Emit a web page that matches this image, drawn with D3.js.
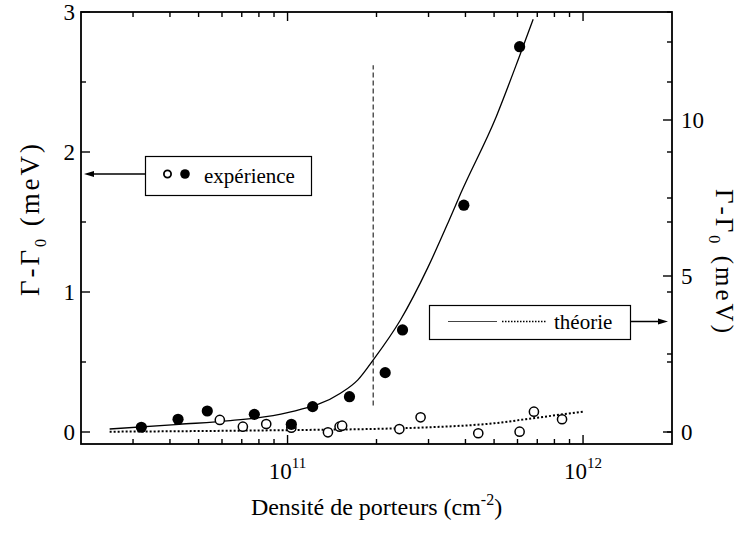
<!DOCTYPE html>
<html><head><meta charset="utf-8">
<script src="https://cdn.jsdelivr.net/npm/d3@7"></script>
<style>body{margin:0;background:#fff;} svg{display:block;font-family:"Liberation Serif","Times New Roman",serif;}</style>
</head><body><svg id="c" width="742" height="533"></svg>
<script>
// ---- data ----
// experiment, filled circles (left axis, meV)
const filledX = [3.2e10, 4.26e10, 5.35e10, 7.72e10, 1.03e11, 1.216e11, 1.62e11, 2.14e11, 2.45e11, 3.95e11, 6.1e11];
const filledY = [0.034, 0.091, 0.150, 0.126, 0.055, 0.181, 0.252, 0.424, 0.729, 1.62, 2.752];
// experiment, open circles (left axis, meV)
const openX = [5.9e10, 7.06e10, 8.47e10, 1.03e11, 1.37e11, 1.50e11, 1.53e11, 2.39e11, 2.82e11, 4.42e11, 6.1e11, 6.82e11, 8.49e11];
const openY = [0.086, 0.038, 0.057, 0.031, -0.002, 0.038, 0.045, 0.021, 0.105, -0.009, 0.002, 0.145, 0.091];
// theory, solid (right axis, meV)
const solidX = [2.5e10, 4.3e10, 6.4e10, 1e11, 1.51e11, 1.73e11, 1.95e11, 2.41e11, 2.98e11, 3.49e11, 3.86e11, 5.08e11, 6.08e11, 6.78e11];
const solidY = [0.096, 0.247, 0.362, 0.619, 1.24, 1.67, 2.31, 3.59, 5.26, 6.70, 7.66, 10.10, 12.02, 13.23];
// theory, dotted (right axis, meV)
const dotX = [2.5e10, 5e10, 1e11, 2e11, 3e11, 5e11, 7e11, 1e12];
const dotY = [0.01, 0.03, 0.06, 0.10, 0.15, 0.28, 0.46, 0.65];
// marker line position
const dashX = [1.95e11];
const dashYRange = [0.19, 2.62];
// ticks
const leftMajor = [0, 1, 2, 3];
const leftMinor = [0.5, 1.5, 2.5];
const rightMajor = [0, 5, 10];
const rightMinor = [2.5, 7.5, 12.5];
const xMajor = [1e11, 1e12];
const xMajorLabels = ["11", "12"];
const xMinor = [3e10,4e10,5e10,6e10,7e10,8e10,9e10,2e11,3e11,4e11,5e11,6e11,7e11,8e11,9e11];
const legendTexts = ["expérience", "théorie"];
const xTitle = "Densité de porteurs (cm";
const yTitle = "Γ-Γ";

// ---- layout ----
const L = 81, R = 672, T = 12, B = 444;
const svg = d3.select("#c");
const x = d3.scaleLog().domain([2e10, 2e12]).range([L, R]);
const yL = d3.scaleLinear().domain([-12/140, 3]).range([B, T]);
const k = 140/31.2;
const yR = d3.scaleLinear().domain([-12/140*k, 3*k]).range([B, T]);

const g = svg.append("g");
// frame
g.append("rect").attr("x", L).attr("y", T).attr("width", R-L).attr("height", B-T)
  .attr("fill", "none").attr("stroke", "#000").attr("stroke-width", 1.8);

function tick(x1,y1,x2,y2){ g.append("line").attr("x1",x1).attr("y1",y1).attr("x2",x2).attr("y2",y2).attr("stroke","#000").attr("stroke-width",1.4); }
// bottom + top ticks (inward)
xMajor.forEach(v=>{ tick(x(v),B,x(v),B-9); tick(x(v),T,x(v),T+9); });
xMinor.forEach(v=>{ tick(x(v),B,x(v),B-5); tick(x(v),T,x(v),T+5); });
// left ticks + mirrored
leftMajor.forEach(v=>{ tick(L,yL(v),L+9,yL(v)); tick(R,yL(v),R-5,yL(v)); });
leftMinor.forEach(v=>{ tick(L,yL(v),L+5,yL(v)); tick(R,yL(v),R-5,yL(v)); });
// right ticks
rightMajor.forEach(v=>{ tick(R,yR(v),R-9,yR(v)); });
rightMinor.forEach(v=>{ tick(R,yR(v),R-5,yR(v)); });

// tick labels
leftMajor.forEach(v=>{
  g.append("text").attr("x", 75).attr("y", yL(v)).attr("dy","0.35em").attr("text-anchor","end")
   .attr("font-size",23).text(v);
});
rightMajor.forEach(v=>{
  g.append("text").attr("x", 681).attr("y", yR(v)).attr("dy","0.35em").attr("text-anchor","start")
   .attr("font-size",23).text(v);
});
xMajor.forEach((v,i)=>{
  const t = g.append("text").attr("x", x(v)).attr("y", 479).attr("text-anchor","middle").attr("font-size",23);
  t.append("tspan").text("10");
  t.append("tspan").attr("font-size",15).attr("dy",-11).text(xMajorLabels[i]);
});

// axis titles
const xt = g.append("text").attr("x", (L+R)/2).attr("y", 515).attr("text-anchor","middle").attr("font-size",24);
xt.append("tspan").text(xTitle);
xt.append("tspan").attr("font-size",16).attr("dy",-10).text("-2");
xt.append("tspan").attr("dy",10).text(")");

function yTitleText(tx, ty, rot, len, fs){
  const t = g.append("text").attr("transform",`translate(${tx},${ty}) rotate(${rot})`)
   .attr("text-anchor","middle").attr("font-size",fs)
   .attr("textLength", len).attr("lengthAdjust","spacing");
  t.append("tspan").text(yTitle);
  t.append("tspan").attr("font-size",16).attr("dy",7).text("0");
  t.append("tspan").attr("dy",-7).text(" (meV)");
}
yTitleText(39, 220, -90, 152, 27);
yTitleText(716, 261, 90, 144, 25);

// dashed vertical line
g.append("line").attr("x1",x(dashX[0])).attr("x2",x(dashX[0]))
  .attr("y1",yL(dashYRange[0])).attr("y2",yL(dashYRange[1]))
  .attr("stroke","#555").attr("stroke-width",1.5).attr("stroke-dasharray","5,3");

// theory curves
const solid = d3.line().x((d,i)=>x(solidX[i])).y((d,i)=>yR(solidY[i])).curve(d3.curveMonotoneX);
g.append("path").attr("d", solid(solidX)).attr("fill","none").attr("stroke","#000").attr("stroke-width",1.3);
const dotted = d3.line().x((d,i)=>x(dotX[i])).y((d,i)=>yR(dotY[i])).curve(d3.curveMonotoneX);
g.append("path").attr("d", dotted(dotX)).attr("fill","none").attr("stroke","#000").attr("stroke-width",2)
  .attr("stroke-dasharray","2,2");

// points
g.selectAll(".open").data(openX).enter().append("circle")
  .attr("cx",(d)=>x(d)).attr("cy",(d,i)=>yL(openY[i])).attr("r",4.6)
  .attr("fill","#fff").attr("stroke","#000").attr("stroke-width",1.5);
g.selectAll(".filled").data(filledX).enter().append("circle")
  .attr("cx",(d)=>x(d)).attr("cy",(d,i)=>yL(filledY[i])).attr("r",5.6)
  .attr("fill","#000");

// legend 1
g.append("rect").attr("x",145.5).attr("y",156.5).attr("width",166).attr("height",39)
  .attr("fill","#fff").attr("stroke","#000").attr("stroke-width",1.2);
g.append("circle").attr("cx",167.5).attr("cy",174).attr("r",3.6).attr("fill","#fff").attr("stroke","#000").attr("stroke-width",1.8);
g.append("circle").attr("cx",185).attr("cy",174).attr("r",4.8).attr("fill","#000");
g.append("text").attr("x",204).attr("y",183).attr("font-size",21).text(legendTexts[0]);
// arrow 1
g.append("line").attr("x1",145.5).attr("y1",174).attr("x2",92).attr("y2",174).attr("stroke","#000").attr("stroke-width",1.5);
g.append("path").attr("d","M84,174 L94,171 L94,177 Z").attr("fill","#000");

// legend 2
g.append("rect").attr("x",429.5).attr("y",305.5).attr("width",201).attr("height",34)
  .attr("fill","#fff").attr("stroke","#000").attr("stroke-width",1.2);
g.append("line").attr("x1",448).attr("x2",497).attr("y1",321.5).attr("y2",321.5).attr("stroke","#444").attr("stroke-width",1.2);
g.append("line").attr("x1",502).attr("x2",547).attr("y1",321.5).attr("y2",321.5).attr("stroke","#000").attr("stroke-width",1.6).attr("stroke-dasharray","1.5,1.5");
g.append("text").attr("x",554).attr("y",329).attr("font-size",21).text(legendTexts[1]);
// arrow 2
g.append("line").attr("x1",630.5).attr("y1",321.5).attr("x2",660).attr("y2",321.5).attr("stroke","#000").attr("stroke-width",1.5);
g.append("path").attr("d","M668,321.5 L658,318.5 L658,324.5 Z").attr("fill","#000");
</script></body></html>
